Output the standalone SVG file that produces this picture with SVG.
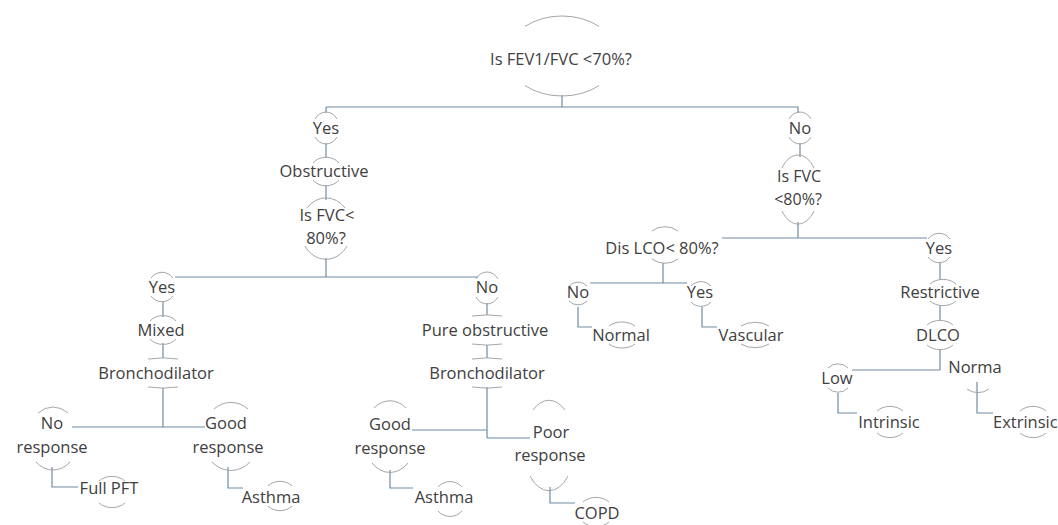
<svg xmlns="http://www.w3.org/2000/svg" width="1058" height="525" viewBox="0 0 1058 525">
<style>
text{font-family:"Open Sans","Noto Sans","DejaVu Sans",sans-serif;font-size:16.5px;fill:#404040;text-anchor:middle}
.arc{fill:none;stroke:#a6a6a6;stroke-width:1}
.c{fill:none;stroke:#6f8ba3;stroke-width:1.2}
</style>
<rect width="1058" height="525" fill="#ffffff"/>
<g id="connectors">
<path class="c" d="M562 95V107M326 107H798V113M326 107V113M326 143V158M326 185V200M326 258V277M175 277H478"/>
<path class="c" d="M163 302V317M163 343V358M163 388V427M72 427H205M52 467V487H78M228 467V488H243"/>
<path class="c" d="M487 303V315M487 345V358M487 387V438M412 430H487M487 438H530M390 470V488H413M550 487V503H575"/>
<path class="c" d="M800 143V157M798 222V238M722 238H927M940 263V280M940 305V320M940 350V370M852 370H940M838 393V413H857M977 382V413H993"/>
<path class="c" d="M663 263V283M590 283H687M578 307V327H592M702 307V327H717"/>
</g>
<g id="root"><path class="arc" d="M525 26.4A55 40 0 0 1 599 26.4M525 85.6A55 40 0 0 0 599 85.6"/><text x="561" y="65">Is FEV1/FVC &lt;70%?</text></g>
<g id="yes1"><path class="arc" d="M315 119A13 15 0 0 1 337 119M315 137A13 15 0 0 0 337 137"/><text x="326" y="134">Yes</text></g>
<g id="obstructive"><path class="arc" d="M313 163A16 14 0 0 1 339 163M313 180A16 14 0 0 0 339 180"/><text x="324" y="177">Obstructive</text></g>
<g id="isfvc1"><path class="arc" d="M307 208A25 29 0 0 1 345 208M305 246A25 29 0 0 0 347 246"/><text x="327" y="221">Is FVC&lt;</text><text x="326" y="244">80%?</text></g>
<g id="no-main"><path class="arc" d="M789 119A13 15 0 0 1 811 119M789 137A13 15 0 0 0 811 137"/><text x="800" y="134">No</text></g>
<g id="isfvc2"><path class="arc" d="M782 168A20 32.5 0 0 1 814 168M782 211A20 32.5 0 0 0 814 211"/><text x="799" y="182" style="font-size:16px">Is FVC</text><text x="798" y="205" style="font-size:16px">&lt;80%?</text></g>
<g id="yes-mixed"><path class="arc" d="M151 278A14 15 0 0 1 173 278M151 296A14 15 0 0 0 173 296"/><text x="162" y="293">Yes</text></g>
<g id="mixed"><path class="arc" d="M150 321A16 13 0 0 1 176 321M150 339A16 13 0 0 0 176 339"/><text x="161" y="336">Mixed</text></g>
<g id="broncho1"><path class="arc" d="M148 359A40 15 0 0 1 178 359M148 387A40 15 0 0 0 178 387"/><text x="156" y="379">Bronchodilator</text></g>
<g id="noresp"><path class="arc" d="M38 413A25 30 0 0 1 68 413M36 462A25 30 0 0 0 70 462"/><text x="52" y="429">No</text><text x="52" y="453">response</text></g>
<g id="fullpft"><path class="arc" d="M99 481A18 15 0 0 1 125 481M99 503A18 15 0 0 0 125 503"/><text x="109" y="494">Full PFT</text></g>
<g id="goodresp1"><path class="arc" d="M214 409A28 32 0 0 1 248 409M212 462A28 32 0 0 0 250 462"/><text x="226" y="429">Good</text><text x="228" y="453">response</text></g>
<g id="asthma1"><path class="arc" d="M268 486A16 14 0 0 1 292 486M268 506A16 14 0 0 0 292 506"/><text x="271" y="503">Asthma</text></g>
<g id="no-mid"><path class="arc" d="M476 279A13 15 0 0 1 498 279M476 297A13 15 0 0 0 498 297"/><text x="487" y="293">No</text></g>
<g id="pure"><path class="arc" d="M472 316A40 15 0 0 1 502 316M472 344A40 15 0 0 0 502 344"/><text x="485" y="336">Pure obstructive</text></g>
<g id="broncho2"><path class="arc" d="M472 359A40 15 0 0 1 502 359M472 387A40 15 0 0 0 502 387"/><text x="487" y="379">Bronchodilator</text></g>
<g id="goodresp2"><path class="arc" d="M374 408A26 34 0 0 1 406 408M372 463A26 34 0 0 0 408 463"/><text x="390" y="430">Good</text><text x="390" y="454">response</text></g>
<g id="asthma2"><path class="arc" d="M438 487A16 16 0 0 1 462 487M438 511A16 16 0 0 0 462 511"/><text x="444" y="503">Asthma</text></g>
<g id="poorresp"><path class="arc" d="M533 410A25 42 0 0 1 565 410M530 476A25 42 0 0 0 568 476"/><text x="551" y="438">Poor</text><text x="550" y="461">response</text></g>
<g id="copd"><path class="arc" d="M583 502A18 15 0 0 1 609 502M583 522A18 15 0 0 0 609 522"/><text x="597" y="519">COPD</text></g>
<g id="dislco"><path class="arc" d="M652 231A20 18 0 0 1 678 231M652 259A20 18 0 0 0 678 259"/><text x="662" y="254">Dis LCO&lt; 80%?</text></g>
<g id="no-dl"><path class="arc" d="M569 286A12 11.5 0 0 1 587 286M569 301A12 11.5 0 0 0 587 301"/><text x="578" y="298">No</text></g>
<g id="normal"><path class="arc" d="M609 326A18 13 0 0 1 635 326M609 344A18 13 0 0 0 635 344"/><text x="621" y="341">Normal</text></g>
<g id="yes-dl"><path class="arc" d="M691 286A13 12 0 0 1 711 286M691 302A13 12 0 0 0 711 302"/><text x="700" y="298">Yes</text></g>
<g id="vascular"><path class="arc" d="M741 326A20 13 0 0 1 769 326M741 344A20 13 0 0 0 769 344"/><text x="751" y="341">Vascular</text></g>
<g id="yes-r"><path class="arc" d="M928 239A14 15 0 0 1 950 239M928 257A14 15 0 0 0 950 257"/><text x="939" y="254">Yes</text></g>
<g id="restrictive"><path class="arc" d="M930 284A17 13 0 0 1 956 284M930 301A17 13 0 0 0 956 301"/><text x="940" y="298">Restrictive</text></g>
<g id="dlco"><path class="arc" d="M927 325A18 15 0 0 1 953 325M927 345A18 15 0 0 0 953 345"/><text x="938" y="341">DLCO</text></g>
<g id="low"><path class="arc" d="M828 368A14 14 0 0 1 848 368M828 388A14 14 0 0 0 848 388"/><text x="837" y="384">Low</text></g>
<g id="norma"><path class="arc" d="M967 389A20 22 0 0 0 989 389"/><text x="975" y="373">Norma</text></g>
<g id="intrinsic"><path class="arc" d="M877 411A18 15 0 0 1 903 411M877 433A18 15 0 0 0 903 433"/><text x="889" y="428">Intrinsic</text></g>
<g id="extrinsic"><path class="arc" d="M1020 411A18 15 0 0 1 1046 411M1020 433A18 15 0 0 0 1046 433"/><text x="993" y="428" style="text-anchor:start">Extrinsic</text></g>
</svg>
